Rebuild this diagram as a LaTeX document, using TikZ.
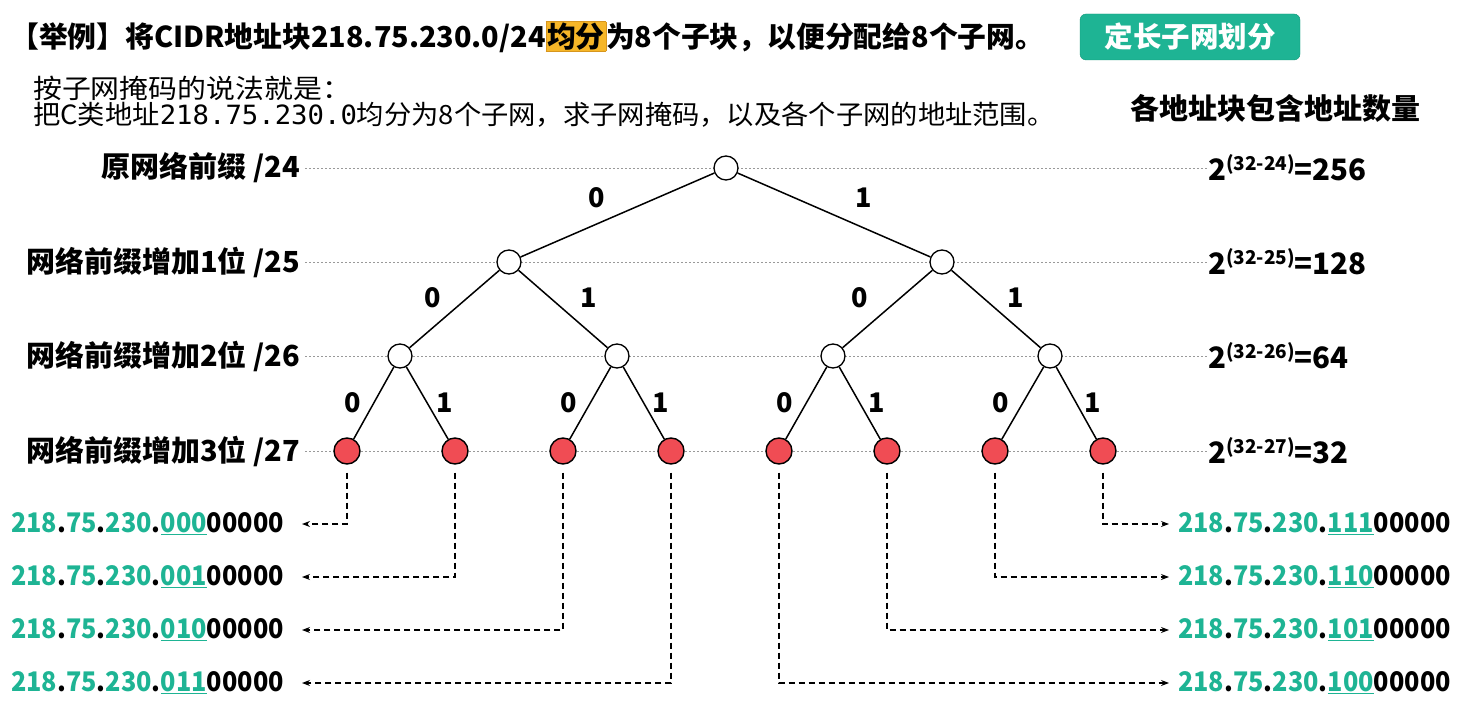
\documentclass[tikz,border=0pt]{standalone}
\usepackage{fontspec}
\setmainfont{Noto Sans CJK SC}
\newfontfamily\monof{DejaVu Sans Mono}
\usetikzlibrary{arrows.meta}

\definecolor{tealc}{RGB}{30,180,148}
\definecolor{tealdark}{RGB}{22,150,122}
\definecolor{hlc}{RGB}{246,182,40}
\definecolor{hlborder}{RGB}{215,150,30}
\definecolor{leafred}{RGB}{240,76,84}

\newcommand{\bigbf}[1]{\bfseries\fontsize{#1}{#1}\selectfont}
\newcommand{\sub}[2]{\scalebox{0.935}[1]{{\color{tealc}218}.{\color{tealc}75}.{\color{tealc}230}.{\color{tealc}\underline{#1}}#2}}
\newcommand{\cnt}[2]{2\raisebox{10pt}{\fontsize{19}{19}\selectfont(32-#1)}=#2}

\tikzset{
  knot/.style={circle,draw,line width=1.3pt,fill=white,minimum size=24pt,inner sep=0pt},
  leaf/.style={circle,draw,line width=1.4pt,fill=leafred,minimum size=26pt,inner sep=0pt},
  edge/.style={line width=1.5pt},
  bit/.style={inner sep=0pt,font=\bigbf{27}},
  levelname/.style={anchor=east,inner sep=0pt,font=\bigbf{29}},
  count/.style={anchor=west,inner sep=0pt,font=\bigbf{29.5}},
  guide/.style={gray!80,line width=0.6pt,dash pattern=on 2pt off 2pt},
  addr/.style={inner sep=0pt,font=\bigbf{27}},
  hop/.style={line width=1.2pt,dash pattern=on 6pt off 4pt,-{Stealth[length=8pt,width=6pt]}}
}

\begin{document}
\begin{tikzpicture}[x=1pt,y=-1pt]

\useasboundingbox (0,0) rectangle (1462,708);

% heading
\node (title) at (10,37) [anchor=west,inner sep=0pt,font=\bigbf{28.8}]
  {【举例】将CIDR地址块218.75.230.0/24{\fboxsep=1pt\fcolorbox{hlborder}{hlc}{均分}}为8个子块，以便分配给8个子网。};

\node (tag) at (1190,37) [draw=tealdark,fill=tealc,rounded corners=6pt,minimum width=220pt,
  minimum height=46pt,text=white,font=\bigbf{28.5}] {定长子网划分};

\node (say) at (33,88) [anchor=west,inner sep=0pt,font=\fontsize{26.5}{26.5}\selectfont]
  {\scalebox{1.09}[1]{按子网掩码的说法就是：}};
\node (task) at (33,115) [anchor=west,inner sep=0pt,font=\fontsize{26.5}{26.5}\selectfont]
  {\scalebox{1.03}[1]{把C类地址{\monof 218.75.230.0}均分为8个子网，求子网掩码，以及各个子网的地址范围。}};

\node (cnthead) at (1275,108) [inner sep=0pt,font=\bigbf{29}] {各地址块包含地址数量};

% levels
\node (n24) at (300,168) [levelname] {原网络前缀 /24};
\node (n25) at (300,262) [levelname] {网络前缀增加1位 /25};
\node (n26) at (300,356) [levelname] {网络前缀增加2位 /26};
\node (n27) at (300,451) [levelname] {网络前缀增加3位 /27};

\node (c24) at (1208,168) [count] {\cnt{24}{256}};
\node (c25) at (1208,262) [count] {\cnt{25}{128}};
\node (c26) at (1208,356) [count] {\cnt{26}{64}};
\node (c27) at (1208,451) [count] {\cnt{27}{32}};

\draw [guide] (n24.east) ++(5,0) -- (c24.west);
\draw [guide] (n25.east) ++(5,0) -- (c25.west);
\draw [guide] (n26.east) ++(5,0) -- (c26.west);
\draw [guide] (n27.east) ++(5,0) -- (c27.west);

% tree
\node (r) at (726,168) [knot] {};

\node (a) at (509,262) [knot] {};
\node (b) at (942,262) [knot] {};

\node (aa) at (400,356) [knot] {};
\node (ab) at (617,356) [knot] {};
\node (ba) at (833,356) [knot] {};
\node (bb) at (1050,356) [knot] {};

\node (l0) at (347,451) [leaf] {};
\node (l1) at (455,451) [leaf] {};
\node (l2) at (563,451) [leaf] {};
\node (l3) at (671,451) [leaf] {};
\node (l4) at (779,451) [leaf] {};
\node (l5) at (887,451) [leaf] {};
\node (l6) at (995,451) [leaf] {};
\node (l7) at (1103,451) [leaf] {};

\draw [edge] (r) -- (a);
\draw [edge] (r) -- (b);
\draw [edge] (a) -- (aa);
\draw [edge] (a) -- (ab);
\draw [edge] (b) -- (ba);
\draw [edge] (b) -- (bb);
\draw [edge] (aa) -- (l0);
\draw [edge] (aa) -- (l1);
\draw [edge] (ab) -- (l2);
\draw [edge] (ab) -- (l3);
\draw [edge] (ba) -- (l4);
\draw [edge] (ba) -- (l5);
\draw [edge] (bb) -- (l6);
\draw [edge] (bb) -- (l7);

\node (e1) at (597,198) [bit] {0};
\node (e2) at (864,198) [bit] {1};
\node (e3) at (433,298) [bit] {0};
\node (e4) at (589,298) [bit] {1};
\node (e5) at (860,298) [bit] {0};
\node (e6) at (1016,298) [bit] {1};
\node (e7) at (353,403) [bit] {0};
\node (e8) at (445,403) [bit] {1};
\node (e9) at (569,403) [bit] {0};
\node (e10) at (661,403) [bit] {1};
\node (e11) at (785,403) [bit] {0};
\node (e12) at (877,403) [bit] {1};
\node (e13) at (1001,403) [bit] {0};
\node (e14) at (1093,403) [bit] {1};

% subnet addresses
\node (s0) at (284,524) [addr,anchor=east] {\sub{000}{00000}};
\node (s1) at (284,577) [addr,anchor=east] {\sub{001}{00000}};
\node (s2) at (284,630) [addr,anchor=east] {\sub{010}{00000}};
\node (s3) at (284,683) [addr,anchor=east] {\sub{011}{00000}};

\node (s7) at (1178,524) [addr,anchor=west] {\sub{111}{00000}};
\node (s6) at (1178,577) [addr,anchor=west] {\sub{110}{00000}};
\node (s5) at (1178,630) [addr,anchor=west] {\sub{101}{00000}};
\node (s4) at (1178,683) [addr,anchor=west] {\sub{100}{00000}};

\draw [hop,shorten <=8pt,shorten >=18pt] (l0.south) |- (s0.east);
\draw [hop,shorten <=8pt,shorten >=18pt] (l1.south) |- (s1.east);
\draw [hop,shorten <=8pt,shorten >=18pt] (l2.south) |- (s2.east);
\draw [hop,shorten <=8pt,shorten >=18pt] (l3.south) |- (s3.east);

\draw [hop,shorten <=8pt,shorten >=9pt] (l7.south) |- (s7.west);
\draw [hop,shorten <=8pt,shorten >=9pt] (l6.south) |- (s6.west);
\draw [hop,shorten <=8pt,shorten >=9pt] (l5.south) |- (s5.west);
\draw [hop,shorten <=8pt,shorten >=9pt] (l4.south) |- (s4.west);

\end{tikzpicture}
\end{document}
